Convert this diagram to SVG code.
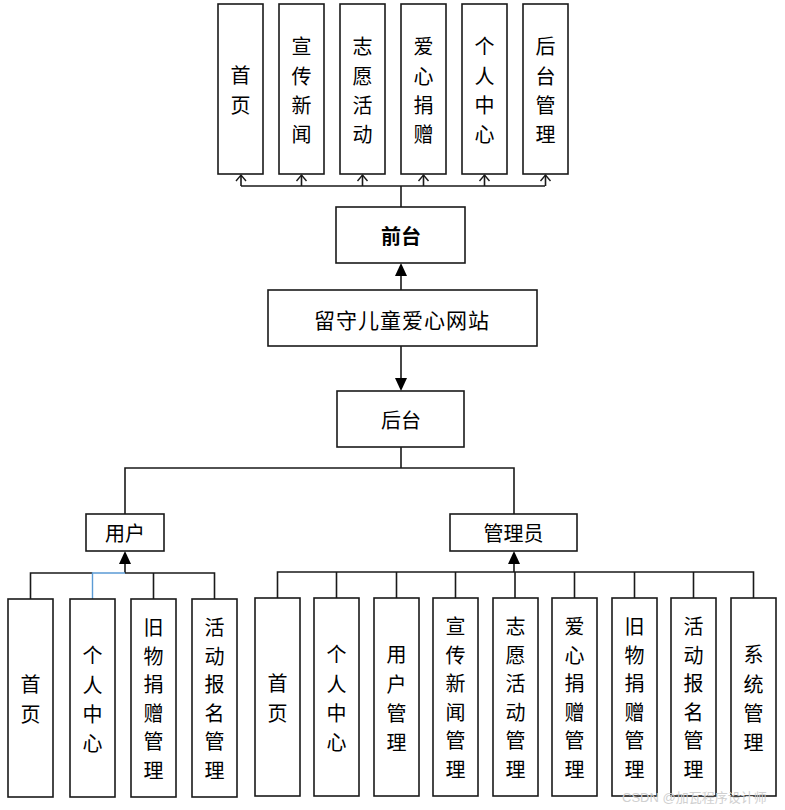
<svg xmlns="http://www.w3.org/2000/svg" width="785" height="810" viewBox="0 0 785 810">
<style>
.box{fill:#fff;stroke:#1a1a1a;stroke-width:1.6}
.t{font-family:"Noto Sans CJK SC","Noto Sans",sans-serif;font-size:20px;fill:#000;text-anchor:middle;dominant-baseline:central}
.ln{fill:none;stroke:#1a1a1a;stroke-width:1.6}
.blue{fill:none;stroke:#5b9bd5;stroke-width:1.4}
.ah{fill:#000}
.oa{fill:none;stroke:#1a1a1a;stroke-width:1.4}
.wm{font-family:"Liberation Sans","Noto Sans CJK SC",sans-serif;font-size:13px;fill:#d0d0d0}
</style>
<rect width="785" height="810" fill="#fff"/>
<g id="connectors">
  <!-- top fan -->
  <path class="ln" d="M401 207V186M241 186H545M241 186V175M301.5 186V175M362.5 186V175M423.5 186V175M484.5 186V175M545.5 186V175"/>
  <path class="oa" d="M236 181L241 175L246 181M296.5 181L301.5 175L306.5 181M357.5 181L362.5 175L367.5 181M418.5 181L423.5 175L428.5 181M479.5 181L484.5 175L489.5 181M540.5 181L545.5 175L550.5 181"/>
  <!-- site to front/back -->
  <path class="ln" d="M401 290V276M401 346V378"/>
  <path class="ah" d="M401 263L407 276H395Z"/>
  <path class="ah" d="M401 391L395 378H407Z"/>
  <!-- back to user/admin -->
  <path class="ln" d="M401 447V468H125V514M401 468H514V514"/>
  <!-- user fan -->
  <path class="ln" d="M125 563V573M30.5 599V573H92.5M125 573H214.5V599M153.5 573V599"/>
  <path class="blue" d="M92.5 599V573H125"/>
  <path class="ah" d="M125 551L131 564H119Z"/>
  <!-- admin fan -->
  <path class="ln" d="M514 563V572M277.5 598V572H753.5V598M336.5 572V598M396.5 572V598M455.5 572V598M515 572V598M574.5 572V598M634.5 572V598M693.5 572V598"/>
  <path class="ah" d="M514 551L520 564H508Z"/>
</g>
<g id="top-nodes">
  <g id="n-shouye"><rect class="box" x="218" y="4" width="45" height="170"/><text class="t" x="240.5" y="74.5">首<tspan x="240.5" dy="29">页</tspan></text></g>
  <g id="n-xuanchuan"><rect class="box" x="279" y="4" width="45" height="170"/><text class="t" x="301.5" y="45.5">宣<tspan x="301.5" dy="29">传</tspan><tspan x="301.5" dy="29">新</tspan><tspan x="301.5" dy="29">闻</tspan></text></g>
  <g id="n-zhiyuan"><rect class="box" x="340" y="4" width="45" height="170"/><text class="t" x="362.5" y="45.5">志<tspan x="362.5" dy="29">愿</tspan><tspan x="362.5" dy="29">活</tspan><tspan x="362.5" dy="29">动</tspan></text></g>
  <g id="n-aixin"><rect class="box" x="401" y="4" width="45" height="170"/><text class="t" x="423.5" y="45.5">爱<tspan x="423.5" dy="29">心</tspan><tspan x="423.5" dy="29">捐</tspan><tspan x="423.5" dy="29">赠</tspan></text></g>
  <g id="n-geren"><rect class="box" x="462" y="4" width="45" height="170"/><text class="t" x="484.5" y="45.5">个<tspan x="484.5" dy="29">人</tspan><tspan x="484.5" dy="29">中</tspan><tspan x="484.5" dy="29">心</tspan></text></g>
  <g id="n-houtaiguanli"><rect class="box" x="523" y="4" width="45" height="170"/><text class="t" x="545.5" y="45.5">后<tspan x="545.5" dy="29">台</tspan><tspan x="545.5" dy="29">管</tspan><tspan x="545.5" dy="29">理</tspan></text></g>
</g>
<g id="qiantai"><rect class="box" x="336" y="207" width="129" height="56"/><text class="t" x="401" y="235" font-weight="bold">前台</text></g>
<g id="site"><rect class="box" x="268" y="290" width="269" height="56"/><text class="t" x="402" y="318.5" style="font-size:21px;letter-spacing:1px">留守儿童爱心网站</text></g>
<g id="houtai"><rect class="box" x="337" y="391" width="127" height="56"/><text class="t" x="401" y="419">后台</text></g>
<g id="yonghu"><rect class="box" x="86" y="514" width="78" height="37"/><text class="t" x="125" y="532.5">用户</text></g>
<g id="guanliyuan"><rect class="box" x="450" y="514" width="127" height="37"/><text class="t" x="513.5" y="532.5">管理员</text></g>
<g id="user-nodes">
  <g id="u1"><rect class="box" x="8" y="599" width="45" height="198"/><text class="t" x="30.5" y="683.5">首<tspan x="30.5" dy="29">页</tspan></text></g>
  <g id="u2"><rect class="box" x="70" y="599" width="45" height="198"/><text class="t" x="92.5" y="654.5">个<tspan x="92.5" dy="29">人</tspan><tspan x="92.5" dy="29">中</tspan><tspan x="92.5" dy="29">心</tspan></text></g>
  <g id="u3"><rect class="box" x="131" y="599" width="45" height="198"/><text class="t" x="153.5" y="626">旧<tspan x="153.5" dy="28.6">物</tspan><tspan x="153.5" dy="28.6">捐</tspan><tspan x="153.5" dy="28.6">赠</tspan><tspan x="153.5" dy="28.6">管</tspan><tspan x="153.5" dy="28.6">理</tspan></text></g>
  <g id="u4"><rect class="box" x="192" y="599" width="45" height="198"/><text class="t" x="214.5" y="626">活<tspan x="214.5" dy="28.6">动</tspan><tspan x="214.5" dy="28.6">报</tspan><tspan x="214.5" dy="28.6">名</tspan><tspan x="214.5" dy="28.6">管</tspan><tspan x="214.5" dy="28.6">理</tspan></text></g>
</g>
<g id="admin-nodes">
  <g id="a1"><rect class="box" x="255" y="598" width="45" height="198"/><text class="t" x="277.5" y="682.5">首<tspan x="277.5" dy="29">页</tspan></text></g>
  <g id="a2"><rect class="box" x="314" y="598" width="45" height="198"/><text class="t" x="336.5" y="653.5">个<tspan x="336.5" dy="29">人</tspan><tspan x="336.5" dy="29">中</tspan><tspan x="336.5" dy="29">心</tspan></text></g>
  <g id="a3"><rect class="box" x="374" y="598" width="45" height="198"/><text class="t" x="396.5" y="653.5">用<tspan x="396.5" dy="29">户</tspan><tspan x="396.5" dy="29">管</tspan><tspan x="396.5" dy="29">理</tspan></text></g>
  <g id="a4"><rect class="box" x="433" y="598" width="45" height="198"/><text class="t" x="455.5" y="625">宣<tspan x="455.5" dy="28.6">传</tspan><tspan x="455.5" dy="28.6">新</tspan><tspan x="455.5" dy="28.6">闻</tspan><tspan x="455.5" dy="28.6">管</tspan><tspan x="455.5" dy="28.6">理</tspan></text></g>
  <g id="a5"><rect class="box" x="493" y="598" width="45" height="198"/><text class="t" x="515.5" y="625">志<tspan x="515.5" dy="28.6">愿</tspan><tspan x="515.5" dy="28.6">活</tspan><tspan x="515.5" dy="28.6">动</tspan><tspan x="515.5" dy="28.6">管</tspan><tspan x="515.5" dy="28.6">理</tspan></text></g>
  <g id="a6"><rect class="box" x="552" y="598" width="45" height="198"/><text class="t" x="574.5" y="625">爱<tspan x="574.5" dy="28.6">心</tspan><tspan x="574.5" dy="28.6">捐</tspan><tspan x="574.5" dy="28.6">赠</tspan><tspan x="574.5" dy="28.6">管</tspan><tspan x="574.5" dy="28.6">理</tspan></text></g>
  <g id="a7"><rect class="box" x="612" y="598" width="45" height="198"/><text class="t" x="634.5" y="625">旧<tspan x="634.5" dy="28.6">物</tspan><tspan x="634.5" dy="28.6">捐</tspan><tspan x="634.5" dy="28.6">赠</tspan><tspan x="634.5" dy="28.6">管</tspan><tspan x="634.5" dy="28.6">理</tspan></text></g>
  <g id="a8"><rect class="box" x="671" y="598" width="45" height="198"/><text class="t" x="693.5" y="625">活<tspan x="693.5" dy="28.6">动</tspan><tspan x="693.5" dy="28.6">报</tspan><tspan x="693.5" dy="28.6">名</tspan><tspan x="693.5" dy="28.6">管</tspan><tspan x="693.5" dy="28.6">理</tspan></text></g>
  <g id="a9"><rect class="box" x="731" y="598" width="45" height="198"/><text class="t" x="753.5" y="653.5">系<tspan x="753.5" dy="29">统</tspan><tspan x="753.5" dy="29">管</tspan><tspan x="753.5" dy="29">理</tspan></text></g>
</g>
<text class="wm" x="622" y="802">CSDN @加瓦程序设计师</text>
</svg>
